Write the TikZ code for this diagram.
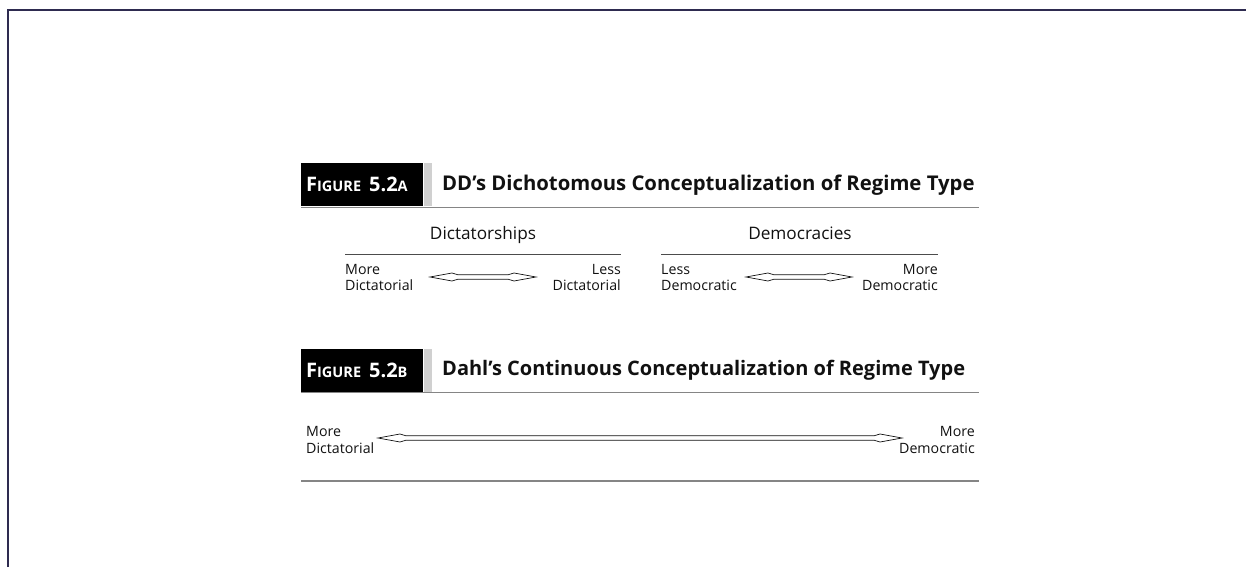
\documentclass[tikz,border=0pt]{standalone}
\usepackage{fontspec}
\setmainfont{Open Sans}
\usetikzlibrary{calc,positioning}
\definecolor{RegimeFrame}{HTML}{2E2B50}
\definecolor{RegimeRule}{HTML}{858585}
\definecolor{RegimeInk}{HTML}{111111}
\definecolor{RegimeStrip}{HTML}{D0D0D0}
\tikzset{
  regime tag/.style={
    fill=black,
    text=white,
    anchor=north west,
    text width=112pt,
    minimum height=43pt,
    inner xsep=5pt,
    inner ysep=0pt,
    align=left,
    font=\fontsize{20}{22}\selectfont\bfseries
  },
  regime strip/.style={
    fill=RegimeStrip,
    minimum width=8pt,
    minimum height=43pt,
    inner sep=0pt
  },
  regime title/.style={
    anchor=base west,
    inner sep=0pt,
    text=RegimeInk,
    font=\fontsize{20.3}{23}\selectfont\bfseries
  },
  regime head/.style={
    anchor=base,
    inner sep=0pt,
    text=RegimeInk,
    font=\fontsize{17.2}{20}\selectfont
  },
  regime end/.style={
    inner sep=0pt,
    text=RegimeInk,
    font=\fontsize{14.2}{16.5}\selectfont
  },
  regime end left/.style={regime end,anchor=west,align=left},
  regime end right/.style={regime end,anchor=east,align=right},
  regime rule/.style={draw=RegimeRule,line width=1.5pt},
  regime thin rule/.style={draw=RegimeInk!75,line width=0.9pt},
  regime arrow/.style={
    draw=RegimeInk,
    line width=0.7pt,
    to path={
      (\tikztostart) -- ($(\tikztostart)+(22,-4)$) -- ($(\tikztostart)+(28,-2.2)$)
      -- ($(\tikztotarget)+(-28,-2.2)$) -- ($(\tikztotarget)+(-22,-4)$)
      -- (\tikztotarget)
      -- ($(\tikztotarget)+(-22,4)$) -- ($(\tikztotarget)+(-28,2.2)$)
      -- ($(\tikztostart)+(28,2.2)$) -- ($(\tikztostart)+(22,4)$) -- cycle
    }
  }
}
\newcommand{\regimesc}[1]{{\fontsize{14.5}{16}\selectfont #1}}

\begin{document}
\begin{tikzpicture}[x=1pt,y=-1pt]
  \useasboundingbox (0,0) rectangle (1246,567);
  \draw[RegimeFrame,line width=1.6pt] (8,567) |- (1246,10);

  % figure 5.2a
  \node[regime tag] (tagA) at (301,163) {F\regimesc{IGURE}\hspace{8pt}5.2\regimesc{A}};
  \node[regime strip,right=0pt of tagA] (stripA) {};
  \node[regime title] (titleA) at (442,190) {DD’s Dichotomous Conceptualization of Regime Type};
  \draw[regime rule] (301,207.5) -- (979,207.5);

  \node[regime head] (dictHead) at (483,239) {Dictatorships};
  \draw[regime thin rule] (345,254) -- (621,254);
  \node[regime end left] (moreDict) at (345,277.5) {More\\Dictatorial};
  \node[regime end right] (lessDict) at (621,277.5) {Less\\Dictatorial};
  \coordinate (dictTipL) at (430,277);
  \coordinate (dictTipR) at (536,277);
  \draw[regime arrow] (dictTipL) to (dictTipR);

  \node[regime head] (demoHead) at (800,239) {Democracies};
  \draw[regime thin rule] (661,254) -- (938,254);
  \node[regime end left] (lessDemo) at (661,277.5) {Less\\Democratic};
  \node[regime end right] (moreDemo) at (938,277.5) {More\\Democratic};
  \coordinate (demoTipL) at (746,277);
  \coordinate (demoTipR) at (852,277);
  \draw[regime arrow] (demoTipL) to (demoTipR);

  % figure 5.2b
  \node[regime tag] (tagB) at (301,349) {F\regimesc{IGURE}\hspace{8pt}5.2\regimesc{B}};
  \node[regime strip,right=0pt of tagB] (stripB) {};
  \node[regime title,font=\fontsize{20}{23}\selectfont\bfseries] (titleB) at (442,375) {Dahl’s Continuous Conceptualization of Regime Type};
  \draw[regime rule] (301,392.5) -- (979,392.5);

  \node[regime end left] (moreDictB) at (306,440) {More\\Dictatorial};
  \node[regime end right] (moreDemoB) at (975,440) {More\\Democratic};
  \coordinate (contTipL) at (378,438);
  \coordinate (contTipR) at (902,438);
  \draw[regime arrow] (contTipL) to (contTipR);

  \draw[regime rule] (301,481) -- (979,481);
\end{tikzpicture}
\end{document}
